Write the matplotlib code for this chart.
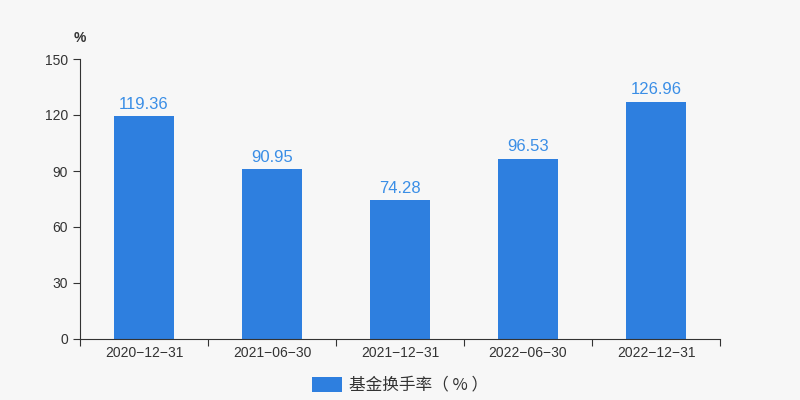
import numpy as np
import matplotlib.pyplot as plt
from matplotlib.patches import Patch

plt.rcParams['font.family'] = ['Noto Sans CJK SC', 'DejaVu Sans']

dates = ['2020-12-31', '2021-06-30', '2021-12-31', '2022-06-30', '2022-12-31']
turnover = [119.36, 90.95, 74.28, 96.53, 126.96]
yTicks = [0, 30, 60, 90, 120, 150]

barColor = '#2e7fdf'
labelColor = '#3a8ee6'
bgColor = '#f7f7f7'
textColor = '#333333'
numFont = ['Liberation Sans', 'DejaVu Sans']

fig = plt.figure(figsize=(8, 4), dpi=100, facecolor=bgColor)
ax = fig.add_axes([0.1, 0.1525, 0.8, 0.70])
ax.set_facecolor(bgColor)

x = np.arange(len(dates))
ax.bar(x, turnover, width=0.47, color=barColor, zorder=2)
for xi, v in zip(x, turnover):
    ax.text(xi, v + 2.5, f'{v:.2f}', ha='center', va='bottom',
            color=labelColor, fontsize=12, family=numFont)

ax.set_xlim(-0.5, len(dates) - 0.5)
ax.set_ylim(0, 150)
ax.set_yticks(yTicks)
ax.set_yticklabels([str(t) for t in yTicks], family=numFont)
ax.set_xticks(np.arange(len(dates) + 1) - 0.5, minor=False)
ax.set_xticklabels([])
ax.set_xticks(x, minor=True)
ax.set_xticklabels([d.replace('-', '\u2212') for d in dates], minor=True, family=numFont)
ax.tick_params(axis='x', which='major', length=5, color=textColor)
ax.tick_params(axis='x', which='minor', length=0, pad=5, labelsize=10, labelcolor=textColor)
ax.tick_params(axis='y', length=5, color=textColor, labelsize=10, labelcolor=textColor)

for side in ['top', 'right']:
    ax.spines[side].set_visible(False)
for side in ['left', 'bottom']:
    ax.spines[side].set_color(textColor)

fig.text(0.1, 0.905, '%', ha='center', va='center', fontsize=10, color=textColor,
         family=numFont, fontweight='bold')

handle = Patch(facecolor=barColor, edgecolor='none')
fig.legend([handle], ['基金换手率（ % ）'], loc='center', bbox_to_anchor=(0.5, 0.037),
           frameon=False, fontsize=12, handlelength=1.8, handleheight=1.0,
           handletextpad=0.4, labelcolor=textColor)

fig.savefig('out.png', dpi=100, facecolor=bgColor)
